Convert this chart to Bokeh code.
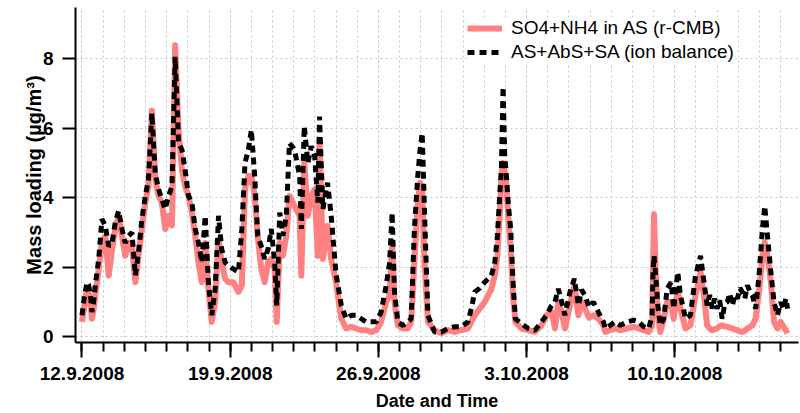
import pandas as pd
from bokeh.plotting import figure
from bokeh.models import (Range1d, FixedTicker, CustomJSTickFormatter, Legend,
                          LegendItem, ColumnDataSource)
from bokeh.embed import file_html
from bokeh.resources import INLINE

# ---------------- data ----------------
start_date = "2008-09-12 00:00"
# time in days since 12.9.2008 00:00
day_offset = [
    0.00, 0.12, 0.24, 0.31, 0.40, 0.47, 0.55, 0.63, 0.79, 0.94, 1.10, 1.26, 1.42,
    1.57, 1.73, 1.89, 2.04, 2.20, 2.36, 2.52, 2.67, 2.83, 2.99, 3.14, 3.30, 3.46,
    3.62, 3.77, 3.93, 4.09, 4.25, 4.40, 4.56, 4.72, 4.87, 5.03, 5.19, 5.35, 5.50,
    5.66, 5.82, 5.97, 6.13, 6.29, 6.45, 6.60, 6.76, 6.92, 7.15, 7.39, 7.55, 7.70,
    7.86, 8.00, 8.16, 8.30, 8.47, 8.63, 8.79, 8.94, 9.10, 9.20, 9.34, 9.49, 9.65,
    9.80, 10.04, 10.28, 10.36, 10.50, 10.67, 10.83, 10.99, 11.14, 11.22, 11.38,
    11.60, 11.77, 12.00, 12.25, 12.48, 12.72, 12.95, 13.19, 13.42, 13.66, 13.90,
    14.13, 14.37, 14.53, 14.65, 14.76, 14.92, 15.15, 15.39, 15.55, 15.70, 15.86,
    15.97, 16.07, 16.18, 16.34, 16.65, 16.97, 17.28, 17.60, 17.92, 18.23, 18.39,
    18.55, 18.79, 19.02, 19.34, 19.50, 19.62, 19.73, 19.81, 19.89, 19.97, 20.05,
    20.13, 20.25, 20.36, 20.47, 20.76, 21.08, 21.39, 21.71, 21.94, 22.18, 22.34,
    22.50, 22.66, 22.81, 23.05, 23.26, 23.45, 23.60, 23.76, 23.95, 24.16, 24.39,
    24.63, 24.72, 24.95, 25.19, 25.43, 25.74, 26.06, 26.30, 26.53, 26.77, 26.93,
    26.97, 27.02, 27.10, 27.20, 27.32, 27.48, 27.64, 27.83, 27.95, 28.14, 28.27,
    28.51, 28.74, 28.98, 29.22, 29.38, 29.53, 29.65, 29.77, 29.88, 30.00, 30.12,
    30.24, 30.36, 30.48, 30.60, 30.72, 30.84, 30.96, 31.08, 31.19, 31.31, 31.43,
    31.55, 31.67, 31.82, 31.98, 32.14, 32.25, 32.38, 32.54, 32.69, 32.85, 33.01,
    33.13, 33.25, 33.33,
]
so4_nh4_rcmb = [
    0.43, 0.90, 1.38, 1.30, 1.00, 0.52, 0.80, 1.20, 1.95, 2.70, 2.90, 1.76, 2.50,
    3.10, 3.48, 2.90, 2.33, 2.70, 2.60, 1.57, 2.33, 3.10, 3.86, 4.33, 6.50, 4.52,
    4.05, 3.86, 3.10, 3.48, 3.20, 8.38, 5.95, 4.80, 4.33, 4.05, 3.57, 2.90, 2.14,
    1.57, 2.70, 1.38, 0.43, 1.00, 2.80, 2.14, 1.67, 1.57, 1.57, 1.29, 1.48, 4.24,
    4.62, 4.62, 4.05, 2.90, 1.95, 1.57, 2.14, 2.24, 1.95, 0.43, 2.70, 2.33, 2.90,
    4.05, 3.76, 3.48, 1.76, 5.00, 3.48, 4.05, 4.24, 2.33, 5.57, 2.24,
    3.19, 2.24, 1.57, 0.52, 0.24, 0.29, 0.24, 0.19, 0.19, 0.14, 0.19,
    0.43, 1.00, 1.19, 2.70, 1.00, 0.33, 0.24, 0.24, 0.43, 2.14, 3.86,
    4.43, 4.24, 2.14, 0.43, 0.19, 0.10, 0.19, 0.14, 0.19, 0.24, 0.43,
    0.62, 0.81, 1.00, 1.38, 1.76, 2.33, 3.48, 4.62, 5.00, 4.71, 4.33,
    3.48, 2.52, 1.19, 0.43, 0.24, 0.19, 0.14, 0.33, 0.62, 0.71, 0.24,
    1.00, 0.71, 0.24, 0.90, 1.48, 0.62, 1.00, 0.81, 0.55, 0.62, 0.52,
    0.33, 0.14, 0.19, 0.24, 0.19, 0.24, 0.29, 0.24, 0.19, 0.14, 0.33,
    1.95, 3.52, 1.86, 0.62, 0.14, 0.52, 1.00, 1.00, 0.52, 1.38, 0.81,
    0.24, 0.33, 1.19, 1.86, 1.19, 0.33, 0.24, 0.19, 0.22, 0.24, 0.30,
    0.33, 0.30, 0.29, 0.26, 0.24, 0.21, 0.19, 0.16, 0.14, 0.18, 0.24,
    0.28, 0.33, 0.52, 1.29, 2.33, 2.71, 2.33, 1.57, 0.43, 0.24, 0.43,
    0.30, 0.19, 0.10,
]
as_abs_sa_ion = [
    0.62, 1.20, 1.57, 1.50, 1.20, 0.71, 1.00, 1.50, 2.24, 3.38, 3.20, 2.60, 2.70,
    3.29, 3.62, 3.10, 2.70, 2.90, 3.00, 1.76, 2.43, 3.38, 4.05, 4.52, 6.43, 4.70,
    4.24, 3.95, 3.67, 4.05, 4.33, 8.05, 5.57, 5.38, 4.80, 4.05, 3.86, 3.10, 2.70,
    2.14, 3.48, 1.57, 0.62, 1.38, 3.48, 2.52, 2.14, 2.05, 1.95, 1.86, 3.10, 5.00,
    5.38, 5.95, 4.60, 2.90, 2.60, 2.24, 2.52, 3.10, 2.14, 0.90, 3.57, 2.90, 3.48,
    5.57, 5.38, 4.62, 3.10, 6.05, 5.00, 5.48, 5.19, 3.86, 6.33, 3.67,
    4.43, 3.48, 1.80, 0.90, 0.52, 0.62, 0.62, 0.52, 0.43, 0.43, 0.43,
    0.71, 1.48, 2.14, 3.57, 1.29, 0.43, 0.33, 0.43, 0.52, 3.10, 4.62,
    5.38, 5.86, 3.57, 0.62, 0.14, 0.14, 0.24, 0.29, 0.29, 0.43, 0.81,
    1.29, 1.40, 1.57, 1.76, 2.14, 2.90, 4.05, 4.81, 7.19, 5.19, 4.62,
    3.86, 3.10, 1.57, 0.52, 0.38, 0.24, 0.19, 0.43, 0.62, 0.90, 1.00,
    1.38, 1.00, 0.62, 1.29, 1.67, 0.90, 1.35, 1.19, 0.85, 1.00, 0.71,
    0.43, 0.24, 0.33, 0.43, 0.33, 0.43, 0.48, 0.43, 0.29, 0.24, 0.62,
    1.76, 2.33, 1.76, 0.90, 0.33, 0.52, 1.38, 1.57, 0.81, 1.86, 1.19,
    0.52, 0.62, 1.76, 2.33, 1.57, 0.90, 1.20, 0.81, 1.10, 0.81, 1.05,
    0.52, 0.95, 1.00, 1.25, 0.90, 1.20, 1.10, 1.40, 1.29, 1.10, 1.48,
    1.30, 1.19, 0.81, 1.76, 3.10, 3.76, 2.90, 1.86, 1.00, 0.62, 1.00,
    0.80, 1.10, 0.81,
]
series_names = ["SO4+NH4 in AS (r-CMB)", "AS+AbS+SA (ion balance)"]
major_tick_dates = ["2008-09-12", "2008-09-19", "2008-09-26", "2008-10-03", "2008-10-10"]
y_ticks = [0, 2, 4, 6, 8]
x_axis_title = "Date and Time"
y_axis_title = "Mass loading (µg/m³)"

# ---------------- build ----------------
t0 = pd.Timestamp(start_date)
times = [t0 + pd.Timedelta(days=d) for d in day_offset]
src = ColumnDataSource(dict(t=times, a=so4_nh4_rcmb, b=as_abs_sa_ion))

def ms(ts):
    return pd.Timestamp(ts).value / 1e6

day_ms = 86400000.0
x_start = ms(t0) - 0.307 * day_ms
x_end = ms(t0) + 33.845 * day_ms

p = figure(width=800, height=413, x_axis_type="datetime", output_backend="svg",
           toolbar_location=None, min_border_left=75, min_border_right=2,
           min_border_top=7, min_border_bottom=69,
           x_range=Range1d(x_start, x_end), y_range=Range1d(-0.163, 9.466))
p.outline_line_color = None
p.background_fill_color = "white"
p.border_fill_color = "white"

major = [ms(d) for d in major_tick_dates]
minor = [ms(t0) + k * day_ms for k in range(0, 34)]
xt = FixedTicker(ticks=major, minor_ticks=minor)
p.xaxis.ticker = xt
p.xgrid.ticker = xt
p.xaxis.formatter = CustomJSTickFormatter(code="""
    const d = new Date(tick);
    return d.getUTCDate() + "." + (d.getUTCMonth() + 1) + "." + d.getUTCFullYear();
""")
yt = FixedTicker(ticks=y_ticks, minor_ticks=[])
p.yaxis.ticker = yt
p.ygrid.ticker = yt

grid_col = "#c4c4c4"
for g in (p.xgrid, p.ygrid):
    g.grid_line_color = grid_col
    g.grid_line_dash = "2 3"
    g.grid_line_width = 1
p.xgrid.minor_grid_line_color = grid_col
p.xgrid.minor_grid_line_dash = "2 3"

for ax in (p.xaxis, p.yaxis):
    ax.axis_line_width = 2
    ax.axis_line_color = "black"
    ax.major_tick_line_width = 2
    ax.minor_tick_line_width = 2
    ax.major_tick_in = 0
    ax.minor_tick_in = 0
    ax.major_label_text_font = "Liberation Sans"
    ax.major_label_text_font_style = "bold"
    ax.major_label_text_font_size = "19px"
    ax.major_label_text_color = "black"
    ax.axis_label_text_font = "Liberation Sans"
    ax.axis_label_text_font_style = "bold"
    ax.axis_label_text_color = "black"

p.xaxis.major_tick_out = 15
p.xaxis.minor_tick_out = 9
p.xaxis.major_label_standoff = 9
p.xaxis.axis_label = x_axis_title
p.xaxis.axis_label_text_font_size = "18px"
p.xaxis.axis_label_standoff = 8

p.yaxis.major_tick_out = 13
p.yaxis.minor_tick_out = 0
p.yaxis.major_label_standoff = 9
p.yaxis.axis_label = y_axis_title
p.yaxis.axis_label_text_font_size = "20px"
p.yaxis.axis_label_standoff = -5

r1 = p.line("t", "a", source=src, line_color="#ff8080", line_width=6,
            line_join="round")
r2 = p.line("t", "b", source=src, line_color="black", line_width=5,
            line_dash="7 5", line_cap="butt")

legend = Legend(items=[LegendItem(label=series_names[0], renderers=[r1]),
                       LegendItem(label=series_names[1], renderers=[r2])],
                location=(392, 279), orientation="vertical")
legend.padding = 3
legend.margin = 0
legend.spacing = 2
legend.glyph_width = 35
legend.label_standoff = 9
legend.label_text_font = "Liberation Sans"
legend.label_text_font_size = "19px"
legend.label_text_color = "black"
legend.border_line_color = None
legend.background_fill_color = "white"
legend.background_fill_alpha = 1.0
p.add_layout(legend, "center")

open("out.html", "w").write(file_html(p, INLINE))
